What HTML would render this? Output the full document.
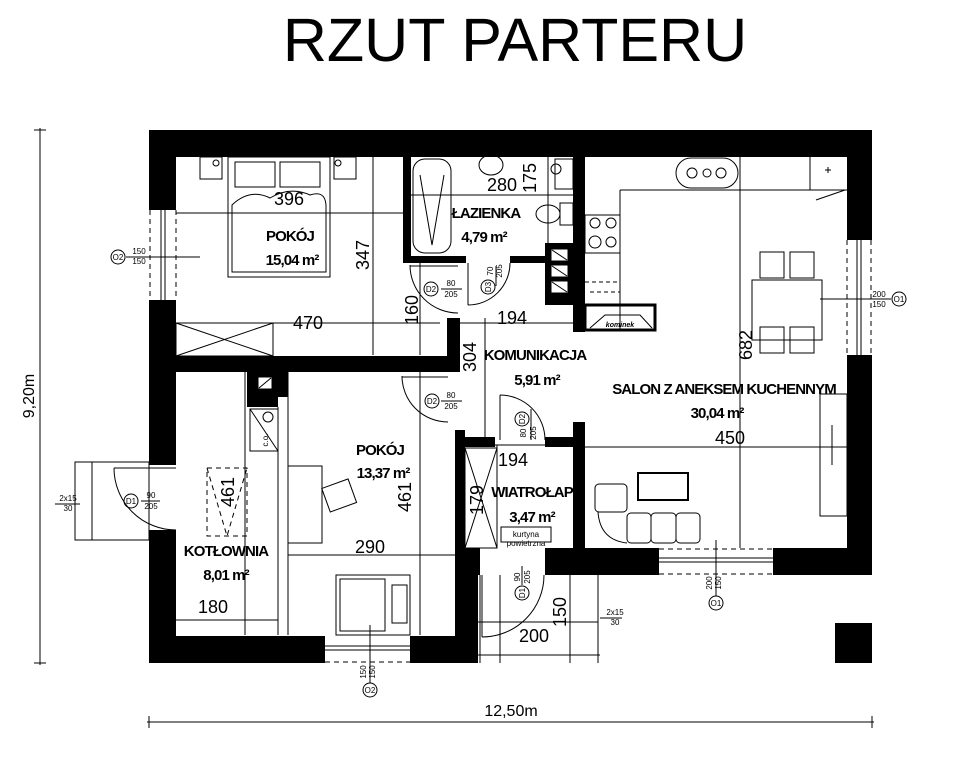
<!DOCTYPE html>
<html><head><meta charset="utf-8"><style>
html,body{margin:0;padding:0;background:#fff;}
svg{display:block;}
.t{font-family:"Liberation Sans Narrow","Liberation Sans",sans-serif;font-weight:bold;font-size:15px;text-anchor:middle;letter-spacing:-0.9px;}
.d{font-family:"Liberation Sans",sans-serif;font-size:18px;text-anchor:middle;}
.s{font-family:"Liberation Sans",sans-serif;font-size:8px;text-anchor:middle;}
</style></head><body>
<svg width="969" height="775" viewBox="0 0 969 775" xmlns="http://www.w3.org/2000/svg">
<text x="515" y="61" font-family="Liberation Sans,sans-serif" font-size="61" text-anchor="middle">RZUT PARTERU</text>

<g stroke="#000" stroke-width="1" fill="none">
<line x1="40" y1="128" x2="40" y2="665"/><line x1="34" y1="130" x2="46" y2="130"/><line x1="34" y1="663" x2="46" y2="663"/>
<line x1="147" y1="722" x2="874" y2="722"/><line x1="149" y1="716" x2="149" y2="728"/><line x1="872" y1="716" x2="872" y2="728"/>
</g>
<text class="d" transform="translate(34,396) rotate(-90)" style="font-size:16px">9,20m</text>
<text class="d" x="511" y="716" style="font-size:16px">12,50m</text>

<g stroke="#000" stroke-width="1" fill="none">
<line x1="176" y1="213" x2="403" y2="213"/>
<line x1="176" y1="323" x2="440" y2="323"/>
<line x1="373" y1="157" x2="373" y2="355"/>
<line x1="420" y1="263" x2="420" y2="355"/>
<line x1="410" y1="195" x2="573" y2="195"/>
<line x1="548" y1="157" x2="548" y2="243"/>
<line x1="460" y1="323" x2="573" y2="323"/>
<line x1="485" y1="318" x2="485" y2="437"/>
<line x1="740" y1="157" x2="740" y2="548"/>
<line x1="585" y1="447" x2="847" y2="447"/>
<line x1="465" y1="445" x2="573" y2="445"/>
<line x1="497" y1="445" x2="497" y2="548"/>
<line x1="288" y1="555" x2="458" y2="555"/>
<line x1="420" y1="372" x2="420" y2="635"/>
<line x1="176" y1="620" x2="278" y2="620"/>
<line x1="245" y1="372" x2="245" y2="635"/>
<line x1="278" y1="407" x2="278" y2="635"/>
<line x1="288" y1="372" x2="288" y2="635"/>
<line x1="480" y1="575" x2="480" y2="663"/>
<line x1="500" y1="575" x2="500" y2="663"/>
<line x1="570" y1="575" x2="570" y2="663"/>
<line x1="598" y1="575" x2="598" y2="663"/>
<line x1="478" y1="655" x2="600" y2="655"/>
<line x1="478" y1="622" x2="598" y2="622"/>
<line x1="620" y1="190" x2="847" y2="190"/>
<line x1="620" y1="190" x2="620" y2="330"/>
</g>

<g fill="#000">
<rect x="149" y="130" width="723" height="27"/>
<rect x="149" y="130" width="27" height="80"/>
<rect x="149" y="300" width="27" height="165"/>
<rect x="149" y="530" width="27" height="133"/>
<rect x="149" y="636" width="176" height="27"/>
<rect x="410" y="636" width="68" height="27"/>
<rect x="455" y="548" width="23" height="115"/>
<rect x="455" y="548" width="25" height="27"/>
<rect x="545" y="548" width="114" height="27"/>
<rect x="773" y="548" width="99" height="27"/>
<rect x="847" y="130" width="25" height="110"/>
<rect x="847" y="355" width="25" height="220"/>
<rect x="176" y="356" width="284" height="16"/>
<rect x="447" y="318" width="13" height="54"/>
<rect x="455" y="430" width="10" height="145"/>
<rect x="455" y="437" width="40" height="10"/>
<rect x="545" y="437" width="40" height="10"/>
<rect x="573" y="422" width="12" height="153"/>
<rect x="403" y="157" width="8" height="106"/>
<rect x="403" y="256" width="63" height="7"/>
<rect x="510" y="256" width="40" height="7"/>
<rect x="573" y="157" width="12" height="175"/>
<rect x="545" y="243" width="33" height="62"/>
<rect x="247" y="372" width="31" height="35"/>
<rect x="278" y="372" width="10" height="25"/>
<rect x="835" y="623" width="37" height="40"/>
</g>

<g stroke="#000" stroke-width="1" fill="#fff">
<rect x="149" y="210" width="27" height="90" stroke="none"/>
<line x1="161" y1="210" x2="161" y2="300"/><line x1="165" y1="210" x2="165" y2="300"/>
<line x1="150" y1="210" x2="150" y2="300" stroke-dasharray="5,4"/><line x1="176" y1="210" x2="176" y2="300" stroke-dasharray="5,4"/>
<rect x="847" y="240" width="25" height="115" stroke="none"/>
<line x1="857" y1="240" x2="857" y2="355"/><line x1="861" y1="240" x2="861" y2="355"/>
<line x1="847" y1="240" x2="847" y2="355" stroke-dasharray="5,4"/><line x1="871" y1="240" x2="871" y2="355" stroke-dasharray="5,4"/>
<rect x="659" y="548" width="114" height="27" stroke="none"/>
<line x1="659" y1="558" x2="773" y2="558"/><line x1="659" y1="562" x2="773" y2="562"/>
<line x1="659" y1="549" x2="773" y2="549" stroke-dasharray="5,4"/><line x1="659" y1="574" x2="773" y2="574" stroke-dasharray="5,4"/>
<rect x="325" y="636" width="85" height="27" stroke="none"/>
<line x1="325" y1="646" x2="410" y2="646"/><line x1="325" y1="650" x2="410" y2="650"/>
<line x1="325" y1="662" x2="410" y2="662" stroke-dasharray="5,4"/>
</g>

<g stroke="#000" stroke-width="1" fill="none">
<circle cx="118" cy="257" r="7"/><line x1="126" y1="257" x2="200" y2="257"/>
<circle cx="899" cy="299" r="7"/><line x1="820" y1="299" x2="891" y2="299"/>
<circle cx="716" cy="603" r="7"/><line x1="716" y1="540" x2="716" y2="596"/>
<circle cx="370" cy="690" r="7"/><line x1="370" y1="625" x2="370" y2="683"/>
</g>
<text class="s" x="118" y="260">O2</text><text class="s" x="139" y="254">150</text><text class="s" x="139" y="264">150</text>
<text class="s" x="899" y="302">O1</text><text class="s" x="879" y="297">200</text><text class="s" x="879" y="307">150</text>
<text class="s" x="716" y="606">O1</text><text class="s" transform="translate(712,583) rotate(-90)">200</text><text class="s" transform="translate(721,583) rotate(-90)">150</text>
<text class="s" x="370" y="693">O2</text><text class="s" transform="translate(366,672) rotate(-90)">150</text><text class="s" transform="translate(375,672) rotate(-90)">150</text>

<g stroke="#000" stroke-width="1" fill="none">
<path d="M410,265 A48,48 0 0 0 458,313"/><line x1="410" y1="266" x2="458" y2="266"/>
<path d="M468,305 A42,42 0 0 0 510,263"/><line x1="468" y1="263" x2="468" y2="305"/>
<path d="M402,376 A46,46 0 0 0 448,422"/><line x1="402" y1="377" x2="448" y2="377"/>
<path d="M500,395 A45,45 0 0 1 545,440"/><line x1="500" y1="395" x2="500" y2="440"/>
<path d="M482,637 A62,62 0 0 0 544,575"/><line x1="482" y1="575" x2="482" y2="637"/>
<path d="M114,468 A62,62 0 0 0 176,530"/><line x1="114" y1="468" x2="176" y2="468"/>
<rect x="75" y="462" width="74" height="78"/><line x1="92" y1="462" x2="92" y2="540"/>
<circle cx="431" cy="289" r="7"/><circle cx="488" cy="287" r="7"/>
<circle cx="432" cy="401" r="7"/><circle cx="522" cy="419" r="7"/>
<circle cx="131" cy="501" r="7"/><circle cx="522" cy="593" r="7"/>
<line x1="441" y1="289" x2="462" y2="289"/><line x1="441" y1="401" x2="462" y2="401"/>
<line x1="141" y1="501" x2="160" y2="501"/><line x1="496" y1="266" x2="496" y2="286"/>
<line x1="531" y1="409" x2="531" y2="440"/><line x1="522" y1="566" x2="522" y2="585"/>
<line x1="55" y1="504" x2="80" y2="504"/><line x1="600" y1="618" x2="622" y2="618"/>
</g>
<text class="s" x="431" y="292">D2</text><text class="s" x="451" y="286">80</text><text class="s" x="451" y="297">205</text>
<text class="s" transform="translate(491,287) rotate(-90)">D3</text><text class="s" transform="translate(493,271) rotate(-90)">70</text><text class="s" transform="translate(502,271) rotate(-90)">205</text>
<text class="s" x="432" y="404">D2</text><text class="s" x="451" y="398">80</text><text class="s" x="451" y="409">205</text>
<text class="s" transform="translate(525,419) rotate(-90)">D2</text><text class="s" transform="translate(526,433) rotate(-90)">80</text><text class="s" transform="translate(536,433) rotate(-90)">205</text>
<text class="s" x="131" y="504">D1</text><text class="s" x="151" y="498">90</text><text class="s" x="151" y="509">205</text>
<text class="s" transform="translate(525,593) rotate(-90)">D1</text><text class="s" transform="translate(520,577) rotate(-90)">90</text><text class="s" transform="translate(530,577) rotate(-90)">205</text>
<text class="s" x="68" y="501">2x15</text><text class="s" x="68" y="511">30</text>
<text class="s" x="615" y="615">2x15</text><text class="s" x="615" y="625">30</text>

<g stroke="#000" stroke-width="1" fill="none">
<rect x="200" y="157" width="22" height="22"/><circle cx="216" cy="163" r="3"/>
<rect x="334" y="157" width="22" height="22"/><circle cx="338" cy="163" r="3"/>
<rect x="228" y="157" width="102" height="120"/>
<rect x="235" y="162" width="40" height="25"/><rect x="280" y="162" width="40" height="25"/>
<path d="M232,205 Q250,188 270,198 Q290,186 310,195 Q325,190 326,205 L326,272 L232,272 Z"/>
<rect x="176" y="323" width="97" height="33"/><path d="M176,323 L273,356 M273,323 L176,356"/>
<rect x="413" y="159" width="38" height="94" rx="12"/><path d="M420,175 L432,245 L444,175"/>
<ellipse cx="491" cy="165" rx="12" ry="10"/>
<rect x="555" y="159" width="18" height="30"/><circle cx="556" cy="169" r="5"/>
<ellipse cx="548" cy="214" rx="12" ry="9"/><rect x="560" y="203" width="13" height="22"/>
<rect x="585" y="215" width="35" height="38"/><circle cx="595" cy="223" r="5"/><circle cx="611" cy="223" r="5"/><circle cx="595" cy="242" r="6"/><circle cx="611" cy="242" r="5"/>
<rect x="676" y="158" width="62" height="30" rx="15"/><circle cx="692" cy="173" r="5"/><circle cx="707" cy="173" r="4"/><circle cx="721" cy="173" r="5"/>
<path d="M810,157 L810,190 M810,190 L847,190 M816,200 L845,190"/><path d="M825,170 l6,0 M828,167 l0,6"/>
<rect x="752" y="280" width="70" height="60"/>
<rect x="760" y="252" width="24" height="26"/><rect x="790" y="252" width="24" height="26"/>
<rect x="760" y="327" width="24" height="26"/><rect x="790" y="327" width="24" height="26"/>
<rect x="585" y="305" width="70" height="25" stroke-width="3"/><path d="M590,328 L605,315 L640,315 L652,328"/>
<path d="M585,282 L620,282 L620,305 M590,292 L620,292" stroke-dasharray="4,3"/>
<rect x="638" y="473" width="50" height="27" stroke-width="2"/>
<rect x="595" y="484" width="32" height="28" rx="4"/><rect x="627" y="513" width="24" height="30" rx="4"/><rect x="651" y="513" width="25" height="30" rx="4"/><rect x="676" y="513" width="24" height="30" rx="4"/>
<path d="M598,512 Q600,540 627,543"/>
<rect x="820" y="394" width="27" height="122"/><path d="M832,425 L832,465"/>
<rect x="288" y="466" width="34" height="77"/>
<rect x="325" y="483" width="28" height="25" transform="rotate(-20 339 495)"/>
<rect x="336" y="575" width="74" height="60"/><rect x="340" y="579" width="45" height="52"/><rect x="392" y="585" width="15" height="38"/>
<rect x="250" y="409" width="28" height="42"/><path d="M250,409 L278,451"/><circle cx="268" cy="417" r="5"/>
<rect x="207" y="468" width="40" height="68" stroke-dasharray="5,4"/><path d="M207,468 L227,536 L247,468" stroke-dasharray="5,4"/>
<rect x="501" y="527" width="50" height="15"/>
<rect x="465" y="448" width="32" height="100"/><path d="M465,448 L497,548 M497,448 L465,548"/>
</g>
<g fill="#fff" stroke="#fff"><rect x="552" y="250" width="15" height="10"/><rect x="552" y="266" width="15" height="10"/><rect x="552" y="282" width="15" height="10"/><rect x="259" y="378" width="12" height="10"/></g>
<g stroke="#000"><path d="M552,250 L567,260 M552,266 L567,276 M552,282 L567,292 M259,388 L271,378"/></g>
<text x="620" y="327" font-family="Liberation Sans,sans-serif" font-size="7" font-style="italic" font-weight="bold" text-anchor="middle">kominek</text>
<text class="s" x="261" y="447" transform="rotate(-90 261 440)">c.o.</text>
<text class="s" x="526" y="537">kurtyna</text><text class="s" x="526" y="546">powietrzna</text>

<text class="t" x="290" y="241">POKÓJ</text><text class="t" x="292" y="265">15,04 m²</text>
<text class="t" x="486" y="218">ŁAZIENKA</text><text class="t" x="484" y="242">4,79 m²</text>
<text class="t" x="535" y="360">KOMUNIKACJA</text><text class="t" x="537" y="385">5,91 m²</text>
<text class="t" x="724" y="394">SALON Z ANEKSEM KUCHENNYM</text><text class="t" x="717" y="418">30,04 m²</text>
<text class="t" x="380" y="455">POKÓJ</text><text class="t" x="383" y="478">13,37 m²</text>
<text class="t" x="532" y="497">WIATROŁAP</text><text class="t" x="532" y="522">3,47 m²</text>
<text class="t" x="226" y="556">KOTŁOWNIA</text><text class="t" x="226" y="580">8,01 m²</text>

<text class="d" x="289" y="205">396</text>
<text class="d" x="502" y="191">280</text>
<text class="d" transform="translate(536,178) rotate(-90)">175</text>
<text class="d" transform="translate(369,255) rotate(-90)">347</text>
<text class="d" x="308" y="329">470</text>
<text class="d" transform="translate(418,310) rotate(-90)">160</text>
<text class="d" x="512" y="324">194</text>
<text class="d" transform="translate(476,357) rotate(-90)">304</text>
<text class="d" transform="translate(752,345) rotate(-90)">682</text>
<text class="d" x="730" y="444">450</text>
<text class="d" x="513" y="466">194</text>
<text class="d" transform="translate(483,500) rotate(-90)">179</text>
<text class="d" transform="translate(411,497) rotate(-90)">461</text>
<text class="d" transform="translate(234,492) rotate(-90)">461</text>
<text class="d" x="370" y="553">290</text>
<text class="d" x="213" y="613">180</text>
<text class="d" x="534" y="642">200</text>
<text class="d" transform="translate(566,612) rotate(-90)">150</text>
</svg>
</body></html>
